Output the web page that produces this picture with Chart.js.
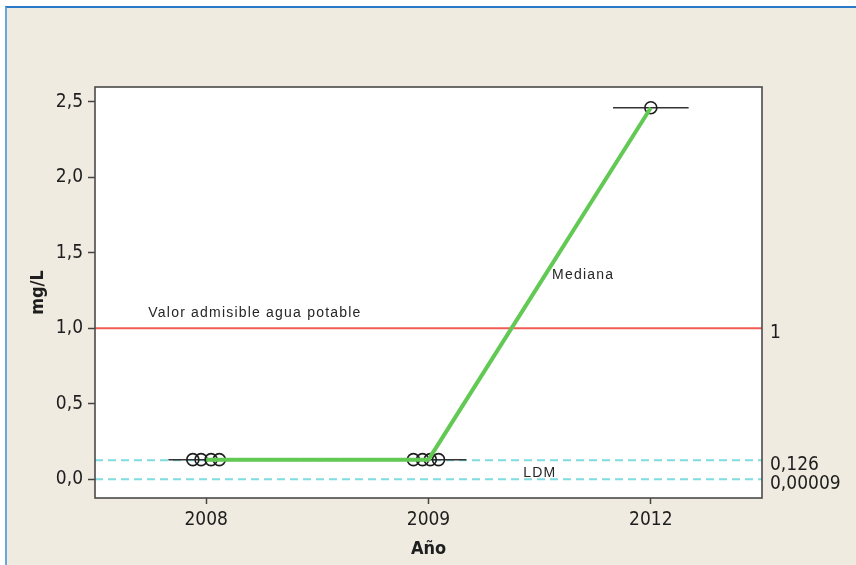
<!DOCTYPE html>
<html>
<head>
<meta charset="utf-8">
<title>mg/L por año</title>
<script src="https://cdn.jsdelivr.net/npm/chart.js@4.4.1/dist/chart.umd.min.js"></script>
<style>
  html, body { margin: 0; padding: 0; background: #fff; }
  #frame {
    position: absolute; left: 5px; top: 6px; width: 851px; height: 559px;
    background: #efebe0; border-left: 2px solid #6aa5dc; border-top: 2px solid #2a78c8;
    box-sizing: border-box;
  }
  #chart-container { position: absolute; left: 0; top: 0; width: 856px; height: 565px; }
</style>
</head>
<body>
<div id="frame"></div>
<div id="chart-container"><canvas id="chartCanvas"></canvas></div>
<script>
// Muestras por año (mg/L)
const years = ['2008', '2009', '2012'];
const samples2008 = [0.13, 0.13, 0.13, 0.13];
const samples2009 = [0.13, 0.13, 0.13, 0.13];
const samples2012 = [2.46];
const medians = [0.13, 0.13, 2.46];

// Ejes y líneas de referencia
const yTicks = [0, 0.5, 1, 1.5, 2, 2.5];
const limitValue = 1;             // valor admisible agua potable
const ldmLines = [0.126, 0.00009];
const refTicks = [1, 0.126, 0.00009];
const refLabels = ['1', '0,126', '0,00009'];

// small horizontal spread so overlapping samples stay visible
const jitter = [[-0.06, -0.023, 0.022, 0.059], [-0.068, -0.027, 0.008, 0.045], [0]];
const whiskerHalf = 0.17;

const samplesByYear = [samples2008, samples2009, samples2012];
const samplePoints = [];
samplesByYear.forEach((vals, i) => {
    vals.forEach((v, j) => samplePoints.push({ x: i + jitter[i][j], y: v }));
});

const fullWidth = (v) => [{ x: -0.5, y: v }, { x: 2.5, y: v }];

const tickFont = { family: "'DejaVu Sans Condensed', 'DejaVu Sans', sans-serif", size: 19 };
const titleFont = { family: "'DejaVu Sans Condensed', 'DejaVu Sans', sans-serif", size: 18, weight: 'bold' };

const datasets = [
    {
        label: 'Mediana',
        data: medians.map((v, i) => ({ x: i, y: v })),
        showLine: true,
        borderColor: '#62c954',
        borderWidth: 4,
        pointRadius: 0,
        order: 0,
    },
    {
        label: 'Muestras',
        data: samplePoints,
        showLine: false,
        pointStyle: 'circle',
        pointRadius: 6,
        pointBorderWidth: 1.6,
        pointBorderColor: '#1e1e1e',
        pointBackgroundColor: 'rgba(0,0,0,0)',
        order: 1,
    },
];

medians.forEach((v, i) => {
    datasets.push({
        label: 'Rango ' + years[i],
        data: [{ x: i - whiskerHalf, y: v }, { x: i + whiskerHalf, y: v }],
        showLine: true,
        borderColor: '#333',
        borderWidth: 1.5,
        pointRadius: 0,
        order: 2,
    });
});

datasets.push({
    label: 'Valor admisible',
    data: fullWidth(limitValue),
    showLine: true,
    borderColor: '#f25b55',
    borderWidth: 2,
    pointRadius: 0,
    order: 3,
});

ldmLines.forEach((v) => {
    datasets.push({
        label: 'LDM',
        data: fullWidth(v),
        showLine: true,
        borderColor: '#7fdcdf',
        borderWidth: 2,
        borderDash: [8, 5],
        pointRadius: 0,
        order: 4,
    });
});

// Text labels placed in data units
const notes = [
    { text: 'Valor admisible agua potable', x: -0.26, y: 1.1 },
    { text: 'Mediana', x: 1.556, y: 1.353 },
    { text: 'LDM', x: 1.426, y: 0.042 },
];

const plotFrame = {
    id: 'plotFrame',
    beforeDraw(chart) {
        const { ctx, chartArea: a } = chart;
        ctx.save();
        ctx.fillStyle = '#ffffff';
        ctx.fillRect(a.left, a.top, a.right - a.left, a.bottom - a.top);
        ctx.restore();
    },
    afterDraw(chart) {
        const { ctx, chartArea: a, scales } = chart;
        ctx.save();
        ctx.strokeStyle = '#4a4a4a';
        ctx.lineWidth = 1.6;
        ctx.strokeRect(a.left, a.top, a.right - a.left, a.bottom - a.top);

        ctx.fillStyle = '#262626';
        ctx.font = "14px 'Liberation Sans', Arial, sans-serif";
        ctx.letterSpacing = '1.2px';
        ctx.textAlign = 'left';
        ctx.textBaseline = 'middle';
        notes.forEach((n) => {
            ctx.fillText(n.text, scales.x.getPixelForValue(n.x), scales.y.getPixelForValue(n.y));
        });
        ctx.restore();
    },
};

const canvas = document.getElementById('chartCanvas');
new Chart(canvas.getContext('2d'), {
    type: 'scatter',
    data: { datasets: datasets },
    options: {
        responsive: true,
        maintainAspectRatio: false,
        animation: false,
        layout: { padding: { top: 87, left: 0, right: 0, bottom: 0 } },
        plugins: { legend: { display: false }, tooltip: { enabled: false } },
        scales: {
            x: {
                type: 'linear',
                min: -0.5,
                max: 2.5,
                afterBuildTicks: (scale) => { scale.ticks = years.map((_, i) => ({ value: i })); },
                afterFit: (scale) => { scale.height = 67; },
                ticks: {
                    font: tickFont,
                    color: '#1e1e1e',
                    padding: 5,
                    callback: (value) => years[value],
                },
                grid: { drawOnChartArea: false, tickLength: 6, color: '#444', tickWidth: 1.5 },
                border: { display: false },
                title: { display: true, text: 'Año', font: titleFont, color: '#1e1e1e', padding: { top: 0, bottom: 5 } },
            },
            y: {
                min: -0.124,
                max: 2.597,
                afterBuildTicks: (scale) => { scale.ticks = yTicks.map((v) => ({ value: v })); },
                afterFit: (scale) => { scale.width = 95; },
                ticks: {
                    font: tickFont,
                    color: '#1e1e1e',
                    padding: 5,
                    callback: (value) => value.toFixed(1).replace('.', ','),
                },
                grid: { drawOnChartArea: false, tickLength: 7, color: '#444', tickWidth: 1.5 },
                border: { display: false },
                title: { display: true, text: 'mg/L', font: titleFont, color: '#1e1e1e', padding: { top: 28, bottom: 0 } },
            },
            y2: {
                position: 'right',
                min: -0.124,
                max: 2.597,
                afterBuildTicks: (scale) => { scale.ticks = refTicks.map((v) => ({ value: v })); },
                afterFit: (scale) => { scale.width = 94; },
                ticks: {
                    font: tickFont,
                    color: '#1e1e1e',
                    padding: 8,
                    autoSkip: false,
                    labelOffset: 5,
                    callback: (value) => refLabels[refTicks.indexOf(value)],
                },
                grid: { display: false, drawTicks: false },
                border: { display: false },
            },
        },
    },
    plugins: [plotFrame],
});
</script>
</body>
</html>
